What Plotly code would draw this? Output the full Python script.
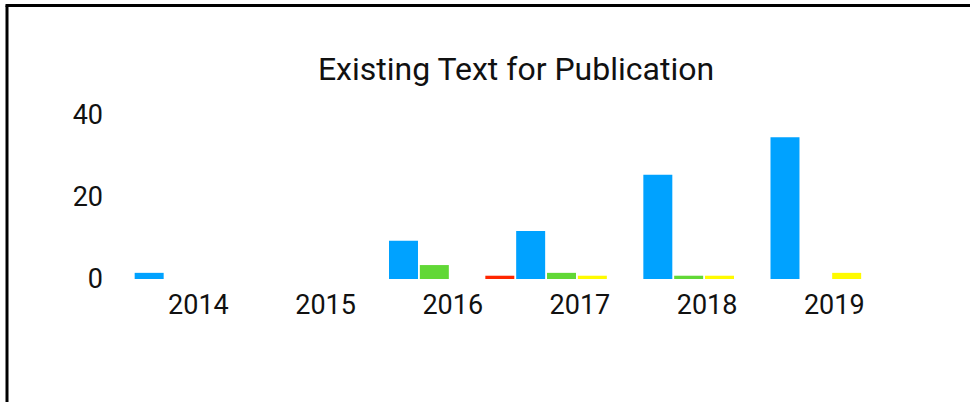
import plotly.graph_objects as go

years = [2014, 2015, 2016, 2017, 2018, 2019]
series_names = ["Series A", "Series B", "Series C", "Series D"]
red_vals = [0, 0, 0, 0.8, 0, 0]
blue_vals = [1.5, 0, 9.3, 11.7, 25.4, 34.6]
green_vals = [0, 0, 3.4, 1.5, 0.8, 0]
yellow_vals = [0, 0, 0, 0.8, 0.8, 1.5]
colors = ["#FF2600", "#00A2FF", "#61D836", "#FFFB00"]
y_ticks = [0, 20, 40]
title_text = "Existing Text for Publication"

W, H = 970, 402
L, R, T, B = 101, 106, 115, 123
BARGAP = 0.03

fig = go.Figure()
for name, vals, col in zip(series_names, [red_vals, blue_vals, green_vals, yellow_vals], colors):
    fig.add_trace(go.Bar(x=years, y=vals, name=name, marker=dict(color=col, line=dict(width=0))))

# tick labels sit under the boundary between the 3rd and 4th bar of each group
tick_offset = (1 - BARGAP) / 4
pw = W - L - R
ph = H - T - B

def px_to_paper_x(px):
    return (px - L) / pw

def px_to_paper_y(py):
    return (H - B - py) / ph

fig.update_layout(
    width=W, height=H,
    margin=dict(l=L, r=R, t=T, b=B, pad=0),
    paper_bgcolor="white", plot_bgcolor="white",
    barmode="group", bargap=BARGAP, bargroupgap=0.06,
    showlegend=False,
    font=dict(family="Roboto", size=27, color="#111111"),
    title=dict(text=title_text, x=516 / W, xanchor="center", y=1 - 69 / H, yanchor="middle",
               xref="container", yref="container", font=dict(size=32, color="#111111")),
    xaxis=dict(range=[years[0] - 0.5, years[-1] + 0.5], tickmode="array",
               tickvals=[y + tick_offset for y in years], ticktext=[str(y) for y in years],
               showgrid=False, zeroline=False, showline=False, ticks="",
               ticklabelstandoff=7, ticklabelshift=3),
    yaxis=dict(range=[0, 40], tickmode="array", tickvals=y_ticks,
               showgrid=False, zeroline=False, showline=False, ticks="",
               ticklabelstandoff=-3),
    shapes=[
        dict(type="line", xref="paper", yref="paper",
             x0=px_to_paper_x(7), x1=px_to_paper_x(7), y0=px_to_paper_y(420), y1=px_to_paper_y(5.5),
             line=dict(color="black", width=3)),
        dict(type="line", xref="paper", yref="paper",
             x0=px_to_paper_x(5.5), x1=px_to_paper_x(990), y0=px_to_paper_y(5.5), y1=px_to_paper_y(5.5),
             line=dict(color="black", width=3)),
    ],
)

fig.write_html("out.html", config={"displayModeBar": False},
               post_script="document.body.style.margin='0';document.body.style.overflow='hidden';")
